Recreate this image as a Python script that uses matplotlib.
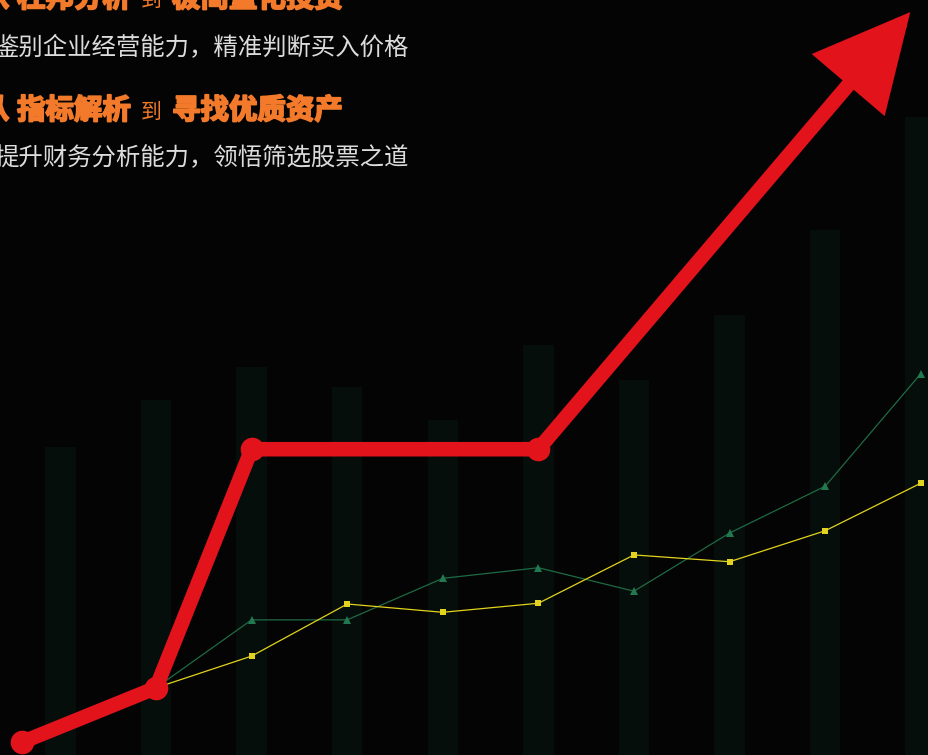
import numpy as np
import matplotlib
matplotlib.use("Agg")
import matplotlib.pyplot as plt
import matplotlib.patheffects as pe

plt.rcParams['font.family'] = ['Noto Sans CJK SC', 'DejaVu Sans']

# ---- data ----
bar_x = [-1, 0, 1, 2, 3, 4, 5, 6, 7, 8]
bar_heights = [40.8, 47.0, 51.4, 48.7, 44.4, 54.3, 49.7, 58.3, 69.5, 84.5]

line_x = [0, 1, 2, 3, 4, 5, 6, 7, 8]
green_vals = [8.9, 17.9, 17.9, 23.4, 24.8, 21.7, 29.4, 35.6, 50.5]
yellow_vals = [8.9, 13.1, 20.0, 18.9, 20.1, 26.5, 25.6, 29.7, 36.0]

red_x = [-1.4, 0, 1, 4]
red_y = [1.7, 8.9, 40.5, 40.5]
arrow_tip = (7.89, 98.4)

headline1 = ["从", "杜邦分析", "到", "极简量化投资"]
subline1 = "鉴别企业经营能力，精准判断买入价格"
headline2 = ["从", "指标解析", "到", "寻找优质资产"]
subline2 = "提升财务分析能力，领悟筛选股票之道"

# ---- style ----
W, H = 929, 755
BG = '#030403'
BAR = '#060e0b'
RED = '#e3131c'
GREEN = '#1f6a45'
YELLOW = '#e2d31e'
ORANGE = '#f27a2a'
WHITE = '#dcdcdc'

fig = plt.figure(figsize=(W / 100, H / 100), dpi=100, facecolor=BG)
ax = fig.add_axes([0, 0, 1, 1])
ax.set_facecolor(BG)
ax.set_xlim(-1.632, 8.086)
ax.set_ylim(0, 100)
ax.axis('off')

ax.bar(bar_x, bar_heights, width=0.32, color=BAR, zorder=1)

ax.plot(line_x, green_vals, color=GREEN, lw=0.9, marker='^', ms=6,
        markerfacecolor='#23794f', markeredgewidth=0, zorder=3)
ax.plot(line_x, yellow_vals, color=YELLOW, lw=0.9, marker='s', ms=5,
        markeredgewidth=0, zorder=3)

ax.plot(red_x, red_y, color=RED, lw=10.5, solid_joinstyle='round',
        solid_capstyle='round', marker='o', ms=17, markeredgewidth=0, zorder=5)
ax.annotate('', xy=arrow_tip, xytext=(red_x[-1], red_y[-1]),
            arrowprops=dict(arrowstyle='-|>,head_length=52,head_width=26',
                            mutation_scale=1, lw=10.5, color=RED,
                            shrinkA=0, shrinkB=0, joinstyle='miter'),
            zorder=5)

def fx(px):
    return px / W

def fy(py):
    return 1 - py / H

heavy = [pe.withStroke(linewidth=1.3, foreground=ORANGE)]

def headline(parts, y):
    fig.text(fx(-19), fy(y), parts[0], color=ORANGE, fontsize=20.5,
             fontweight='bold', va='center', ha='left', path_effects=heavy)
    fig.text(fx(17), fy(y), parts[1], color=ORANGE, fontsize=20.5,
             fontweight='bold', va='center', ha='left', path_effects=heavy)
    fig.text(fx(141), fy(y + 1), parts[2], color=ORANGE, fontsize=15,
             va='center', ha='left')
    fig.text(fx(172), fy(y), parts[3], color=ORANGE, fontsize=20.5,
             fontweight='bold', va='center', ha='left', path_effects=heavy)

headline(headline1, -1)
fig.text(fx(-6), fy(48), subline1, color=WHITE, fontsize=17.6,
         va='center', ha='left')
headline(headline2, 111)
fig.text(fx(-6), fy(158), subline2, color=WHITE, fontsize=17.6,
         va='center', ha='left')

fig.savefig('out.png', dpi=100, facecolor=BG)
